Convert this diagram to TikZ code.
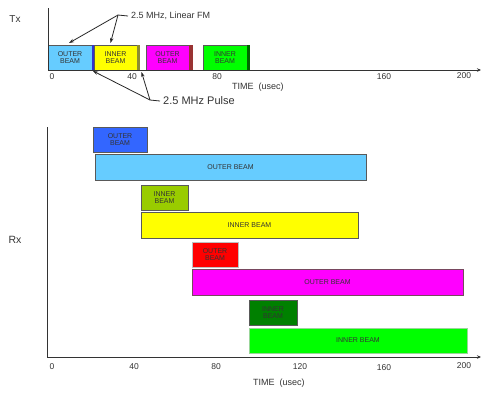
\documentclass[tikz,border=0pt]{standalone}
\usepackage{fontspec}
\setmainfont{Liberation Sans}
\usetikzlibrary{arrows.meta,calc}
\definecolor{cLightBlue}{HTML}{66CCFF}
\definecolor{cBlue}{HTML}{3366FF}
\definecolor{cDarkBlue}{HTML}{3333CC}
\definecolor{cYellow}{HTML}{FFFF00}
\definecolor{cOlive}{HTML}{8C8C33}
\definecolor{cMagenta}{HTML}{FF00FF}
\definecolor{cDarkRed}{HTML}{993333}
\definecolor{cGreen}{HTML}{00FF00}
\definecolor{cDarkGreen}{HTML}{008000}
\definecolor{cStripGreen}{HTML}{006600}
\definecolor{cLime}{HTML}{99CC00}
\definecolor{cRed}{HTML}{FF0000}
\definecolor{cAxis}{HTML}{333333}
\definecolor{cText}{HTML}{333333}
\begin{document}
\begin{tikzpicture}[x=1pt,y=-1pt,
  box/.style={draw=black!65, line width=0.6pt, inner sep=0pt, outer sep=0pt,
    anchor=north west, align=center, text=cText,
    font=\fontsize{7}{7.6}\selectfont},
  stripbox/.style={draw=none, inner sep=0pt, outer sep=0pt, anchor=north west,
    minimum height=25pt},
  axisline/.style={line width=1pt, draw=cAxis},
  ticklbl/.style={font=\fontsize{8.5}{9}\selectfont, text=cText, inner sep=0pt},
  axlbl/.style={font=\fontsize{9}{10}\selectfont, text=cText, inner sep=0pt},
  annarrow/.style={-{Stealth[length=5pt,width=3.5pt]}, line width=0.8pt, draw=black!85}
]
\useasboundingbox (0,0) rectangle (481,392);

% ---------------- Tx section ----------------
\node[font=\fontsize{10}{11}\selectfont, text=cText, inner sep=0pt] (txlabel) at (15,19) {Tx};

\node[box, fill=cLightBlue, minimum width=44pt, minimum height=25pt] (tx1) at (48,45) {OUTER\\BEAM};
\node[stripbox, fill=cDarkBlue, minimum width=2pt] (tx1s) at (92,45) {};
\node[box, fill=cYellow, minimum width=43pt, minimum height=25pt] (tx2) at (94,45) {INNER\\BEAM};
\node[stripbox, fill=cOlive, minimum width=2.5pt] (tx2s) at (137,45) {};
\node[box, fill=cMagenta, minimum width=43pt, minimum height=25pt] (tx3) at (146,45) {OUTER\\BEAM};
\node[stripbox, fill=cDarkRed, minimum width=3.5pt] (tx3s) at (189,45) {};
\node[box, fill=cGreen, minimum width=44pt, minimum height=25pt] (tx4) at (203,45) {INNER\\BEAM};
\node[stripbox, fill=cStripGreen, minimum width=3pt] (tx4s) at (247,45) {};

\coordinate (txtop) at (48,8);
\coordinate (txend) at (481,70);
\draw[axisline, -{Stealth[length=4pt,width=3.5pt]}] (txtop) |- (txend);

\node[ticklbl] (tx0) at (52,77) {0};
\node[ticklbl] (tx40) at (132,77) {40};
\node[ticklbl] (tx80) at (217,77) {80};
\node[ticklbl] (tx160) at (384,77) {160};
\node[ticklbl] (tx200) at (464,76) {200};
\node[axlbl, anchor=west] (txtime) at (232,87) {TIME\ \ (usec)};

% annotations
\node[font=\fontsize{9}{10}\selectfont, text=cText, inner sep=0pt, anchor=west] (fmlbl) at (131,16) {2.5 MHz, Linear FM};
\coordinate (fmj) at (118,15);
\coordinate (fmtip1) at ($(tx1.north)+(-1,-2)$);
\coordinate (fmtip2) at ($(tx2.north)+(-5,-2)$);
\draw[line width=0.8pt, draw=black!85] ($(fmlbl.west)+(-3,0)$) -- (fmj);
\draw[annarrow] (fmj) -- (fmtip1);
\draw[annarrow] (fmj) -- (fmtip2);

\node[font=\fontsize{11}{12}\selectfont, text=cText, inner sep=0pt, anchor=west] (pulselbl) at (163,101) {2.5 MHz Pulse};
\coordinate (pj) at (150,100);
\coordinate (ptip1) at ($(tx1s.south)+(0,1)$);
\coordinate (ptip2) at ($(tx2s.south east)+(2,2)$);
\draw[line width=0.8pt, draw=black!85] ($(pulselbl.west)+(-3,0)$) -- (pj);
\draw[annarrow] (pj) -- (ptip1);
\draw[annarrow] (pj) -- (ptip2);

% ---------------- Rx section ----------------
\node[font=\fontsize{10.5}{11}\selectfont, text=cText, inner sep=0pt] (rxlabel) at (15,240) {Rx};

\node[box, fill=cBlue, minimum width=54pt, minimum height=25pt] (rx1) at (93,127) {OUTER\\BEAM};
\node[box, fill=cLightBlue, minimum width=271pt, minimum height=26pt] (rx2) at (95,154) {OUTER BEAM};
\node[box, fill=cLime, minimum width=47pt, minimum height=25pt] (rx3) at (141,185) {INNER\\BEAM};
\node[box, fill=cYellow, minimum width=217pt, minimum height=26pt] (rx4) at (141,212) {INNER BEAM};
\node[box, fill=cRed, draw=black!25, minimum width=46pt, minimum height=25pt] (rx5) at (192,242) {OUTER\\BEAM};
\node[box, fill=cMagenta, draw=black!60!magenta, minimum width=271pt, minimum height=26pt] (rx6) at (192,269) {OUTER BEAM};
\node[box, fill=cDarkGreen, minimum width=48pt, minimum height=25pt] (rx7) at (249,300) {INNER\\BEAM};
\node[box, fill=cGreen, draw=green!60!black!40, minimum width=218pt, minimum height=25pt] (rx8) at (249,328) {INNER BEAM};

\coordinate (rxtop) at (47,127);
\coordinate (rxend) at (481,357);
\draw[axisline, -{Stealth[length=4pt,width=3.5pt]}] (rxtop) |- (rxend);

\node[ticklbl] (rx0) at (52,367) {0};
\node[ticklbl] (rx40) at (134,367) {40};
\node[ticklbl] (rx80) at (216,367) {80};
\node[ticklbl] (rx120) at (300,367) {120};
\node[ticklbl] (rx160) at (384,368) {160};
\node[ticklbl] (rx200) at (464,366) {200};
\node[axlbl, anchor=west] (rxtime) at (253,383) {TIME\ \ (usec)};
\end{tikzpicture}
\end{document}
